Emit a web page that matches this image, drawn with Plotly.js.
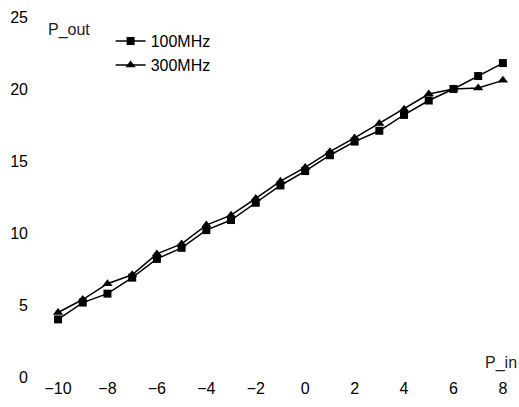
<!DOCTYPE html>
<html>
<head>
<meta charset="utf-8">
<script src="https://cdn.plot.ly/plotly-3.0.1.min.js"></script>
<style>html,body{margin:0;padding:0;background:#fff;}#chart{width:519px;height:407px;}</style>
</head>
<body>
<div id="chart"></div>
<script>
const pIn = [-10, -9, -8, -7, -6, -5, -4, -3, -2, -1, 0, 1, 2, 3, 4, 5, 6, 7, 8];
const out100 = [4.0, 5.17, 5.79, 6.9, 8.2, 8.97, 10.2, 10.9, 12.1, 13.3, 14.3, 15.4, 16.35, 17.1, 18.2, 19.2, 20.0, 20.9, 21.8];
const out300 = [4.48, 5.38, 6.48, 7.1, 8.55, 9.24, 10.55, 11.24, 12.4, 13.6, 14.55, 15.65, 16.6, 17.6, 18.6, 19.65, 20.0, 20.07, 20.6];
const seriesNames = ['100MHz', '300MHz'];
const xTicks = [-10, -8, -6, -4, -2, 0, 2, 4, 6, 8];
const yTicks = [0, 5, 10, 15, 20, 25];

const font = {family: 'Liberation Sans, Arial, sans-serif', size: 16, color: '#000'};

const traces = [
  {x: pIn, y: out100, name: seriesNames[0], mode: 'lines+markers', type: 'scatter',
   line: {color: '#000', width: 1.5}, marker: {symbol: 'square', size: 8, color: '#000'}},
  {x: pIn, y: out300, name: seriesNames[1], mode: 'lines+markers', type: 'scatter',
   line: {color: '#000', width: 1.5}, marker: {symbol: 'triangle-up', size: 9, color: '#000'}}
];

const layout = {
  width: 519, height: 407,
  margin: {l: 40, r: 5, t: 17, b: 30, pad: 0},
  paper_bgcolor: '#fff', plot_bgcolor: '#fff',
  font: font,
  showlegend: true,
  legend: {x: 0.149, y: 0.98, xanchor: 'left', yanchor: 'top', bgcolor: 'rgba(0,0,0,0)',
           borderwidth: 0, font: {family: font.family, size: 16, color: '#000'}, tracegroupgap: 0},
  xaxis: {range: [-10.73, 8.45], tickvals: xTicks, ticktext: xTicks.map(v => v < 0 ? '\u2212' + Math.abs(v) : String(v)),
          showgrid: false, zeroline: false, showline: false, ticks: '', tickfont: font, ticklabelstandoff: 0},
  yaxis: {range: [0, 25], tickvals: yTicks, showgrid: false, zeroline: false, showline: false,
          ticks: '', tickfont: font, ticklabelstandoff: 11},
  annotations: [
    {text: 'P_out', xref: 'paper', yref: 'paper', x: 0.012, y: 0.965, xanchor: 'left', yanchor: 'middle',
     showarrow: false, font: {family: font.family, size: 16, color: '#222'}},
    {text: 'P_in', xref: 'paper', yref: 'paper', x: 1.01, y: 0.04, xanchor: 'right', yanchor: 'middle',
     showarrow: false, font: {family: font.family, size: 16, color: '#222'}}
  ]
};

Plotly.newPlot('chart', traces, layout, {displayModeBar: false, staticPlot: true});
</script>
</body>
</html>
